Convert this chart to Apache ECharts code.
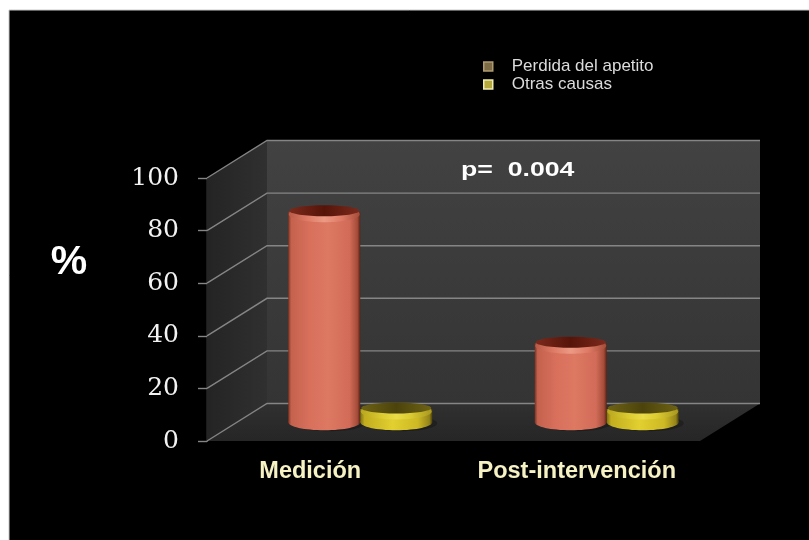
<!DOCTYPE html>
<html>
<head>
<meta charset="utf-8">
<style>html,body{margin:0;padding:0;background:#fff}#c{width:809px;height:540px}</style>
<script src="https://cdn.jsdelivr.net/npm/echarts@6/dist/echarts.min.js"></script>
</head>
<body>
<div id="c"></div>
<script>
// Chart data
const categories = ['Medición', 'Post-intervención'];
const perdidaApetito = [80, 30];
const otrasCausas = [5, 5];
const yTicks = [0, 20, 40, 60, 80, 100];
const seriesNames = ['Perdida del apetito', 'Otras causas'];

// Oblique projection of the box: how far the back wall sits from the front plane
const DEPTH_X = 60;
const DEPTH_Y = -37.5;
const BAR_WIDTH = 72;
const CAP_RY = 8;

const chart = echarts.init(document.getElementById('c'), null, { renderer: 'canvas' });

function hGrad(stops) {
  return new echarts.graphic.LinearGradient(0, 0, 1, 0, stops.map(c => ({ offset: c[0], color: c[1] })));
}

// Walls, floor and the gridlines that wrap around them
function renderBox(params, api) {
  const value = api.value(1);
  const rect = params.coordSys;
  const y = api.coord([0, value])[1];
  const x0 = rect.x, x1 = rect.x + rect.width;
  const lineStyle = { stroke: '#858585', lineWidth: 1.4, fill: null };
  const children = [];
  if (params.dataIndex === 0) {
    const top = rect.y, bottom = rect.y + rect.height;
    children.push({
      type: 'polygon',
      shape: { points: [[x0 + DEPTH_X, top + DEPTH_Y], [x1 + DEPTH_X, top + DEPTH_Y], [x1 + DEPTH_X, bottom + DEPTH_Y], [x0 + DEPTH_X, bottom + DEPTH_Y]] },
      style: { fill: new echarts.graphic.LinearGradient(0, 0, 0, 1, [{ offset: 0, color: '#424242' }, { offset: 1, color: '#343434' }]) }
    }, {
      type: 'polygon',
      shape: { points: [[x0, top], [x0 + DEPTH_X, top + DEPTH_Y], [x0 + DEPTH_X, bottom + DEPTH_Y], [x0, bottom]] },
      style: { fill: new echarts.graphic.LinearGradient(0, 0, 1, 0, [{ offset: 0, color: '#242424' }, { offset: 1, color: '#303030' }]) }
    }, {
      type: 'polygon',
      shape: { points: [[x0, bottom], [x0 + DEPTH_X, bottom + DEPTH_Y], [x1 + DEPTH_X, bottom + DEPTH_Y], [x1, bottom]] },
      style: { fill: new echarts.graphic.LinearGradient(0, 0, 0, 1, [{ offset: 0, color: '#303030' }, { offset: 1, color: '#262626' }]) }
    });
  }
  children.push({
    type: 'polyline',
    shape: { points: [[x0, y], [x0 + DEPTH_X, y + DEPTH_Y], [x1 + DEPTH_X, y + DEPTH_Y]] },
    style: lineStyle
  });
  return { type: 'group', children };
}

// Cylinder standing mid-depth on the floor; side = -1 left of the category, +1 right
function cylinder(side, palette) {
  return function (params, api) {
    const pt = api.coord([api.value(0), api.value(1)]);
    const base = api.coord([api.value(0), 0]);
    const cx = pt[0] + DEPTH_X / 2 + side * BAR_WIDTH / 2;
    const topY = pt[1] + DEPTH_Y / 2;
    const baseY = base[1] + DEPTH_Y / 2;
    const rx = BAR_WIDTH / 2;
    const body = hGrad(palette.body);
    return {
      type: 'group',
      children: [
        { type: 'ellipse', shape: { cx: cx + 5, cy: baseY + 1, rx: rx, ry: CAP_RY }, style: { fill: 'rgba(0,0,0,0.25)' } },
        { type: 'ellipse', shape: { cx, cy: baseY, rx, ry: CAP_RY }, style: { fill: body } },
        { type: 'rect', shape: { x: cx - rx, y: topY, width: BAR_WIDTH, height: baseY - topY }, style: { fill: body } },
        { type: 'ellipse', shape: { cx, cy: topY + 2.5, rx: rx - 0.5, ry: CAP_RY }, style: { fill: hGrad(palette.rim) } },
        { type: 'ellipse', shape: { cx, cy: topY - 1, rx: rx - 1, ry: CAP_RY - 2.5 }, style: { fill: hGrad(palette.top) } }
      ]
    };
  };
}

const redPalette = {
  body: [[0, '#7a3322'], [0.04, '#c4624e'], [0.3, '#d8705c'], [0.55, '#dd7863'], [0.85, '#d26c58'], [0.96, '#a44c39'], [1, '#5a2215']],
  rim: [[0, '#b85a47'], [0.25, '#dd7a65'], [0.5, '#ec9a85'], [0.75, '#dd7a65'], [1, '#a44c39']],
  top: [[0, '#7a2a1c'], [0.5, '#561409'], [1, '#7a2a1c']]
};
const yellowPalette = {
  body: [[0, '#7d7012'], [0.06, '#c2ae1e'], [0.45, '#e2cf30'], [0.8, '#cdb924'], [0.96, '#94841a'], [1, '#4a4008']],
  rim: [[0, '#b8a61e'], [0.3, '#dccb30'], [0.5, '#eadb48'], [0.7, '#dccb30'], [1, '#a89820']],
  top: [[0, '#6e6214'], [0.5, '#4c430c'], [1, '#6e6214']]
};

chart.setOption({
  animation: false,
  backgroundColor: '#ffffff',
  graphic: [
    { type: 'rect', z: -10, silent: true, shape: { x: 9, y: 10, width: 810, height: 540 }, style: { fill: '#000000', stroke: '#c8c8c8', lineWidth: 1 } },
    { type: 'text', z: 10, silent: true, x: 69, y: 263, style: { text: '%', fill: '#ffffff', font: 'bold 41px "Liberation Sans"', align: 'center', verticalAlign: 'middle' } },
    { type: 'text', z: 10, silent: true, x: 461, y: 170, scaleX: 1.27, style: { text: 'p=  0.004', fill: '#ffffff', font: 'bold 21px "Liberation Sans"', align: 'left', verticalAlign: 'middle' } }
  ],
  legend: {
    orient: 'vertical',
    left: 478,
    top: 53,
    itemWidth: 9,
    itemHeight: 9,
    itemGap: 1,
    icon: 'rect',
    selectedMode: false,
    textStyle: { color: '#dcdcdc', fontFamily: 'Liberation Sans', fontSize: 17, padding: [0, 0, 0, 14] },
    data: [
      { name: seriesNames[0], itemStyle: { color: '#7d6b45', borderColor: '#b09a70', borderWidth: 1.5 } },
      { name: seriesNames[1], itemStyle: { color: '#b5a83c', borderColor: '#f0ecb0', borderWidth: 1.5 } }
    ]
  },
  grid: { left: 207, top: 178, width: 493, height: 263 },
  xAxis: {
    type: 'category',
    data: categories,
    axisLine: { show: false },
    axisTick: { show: false },
    axisLabel: {
      interval: 0,
      hideOverlap: false,
      margin: 19,
      color: '#f6f2c4',
      fontFamily: 'Liberation Sans',
      fontWeight: 'bold',
      fontSize: 23.5,
      formatter: (v, i) => i === 0 ? '{a|' + v + '}' : v,
      rich: { a: { padding: [0, 40, 0, 0], color: '#f6f2c4', fontFamily: 'Liberation Sans', fontWeight: 'bold', fontSize: 23.5 } }
    }
  },
  yAxis: {
    type: 'value',
    min: 0,
    max: 100,
    interval: 20,
    axisLine: { show: true, lineStyle: { color: '#858585', width: 1.4 } },
    axisTick: { show: true, length: 9, lineStyle: { color: '#858585', width: 1.4 } },
    axisLabel: { margin: 28, padding: [6, 0, 0, 0], color: '#f2f2f2', fontFamily: 'DejaVu Serif', fontSize: 25 },
    splitLine: { show: false }
  },
  series: [
    {
      type: 'custom',
      name: 'box',
      z: 1,
      silent: true,
      renderItem: renderBox,
      encode: { x: 0, y: 1 },
      data: yTicks.map(v => [0, v])
    },
    {
      type: 'custom',
      name: seriesNames[0],
      z: 3,
      itemStyle: { color: '#7d6b45' },
      renderItem: cylinder(-1, redPalette),
      encode: { x: 0, y: 1 },
      data: perdidaApetito.map((v, i) => [i, v])
    },
    {
      type: 'custom',
      name: seriesNames[1],
      z: 4,
      itemStyle: { color: '#b5a83c' },
      renderItem: cylinder(1, yellowPalette),
      encode: { x: 0, y: 1 },
      data: otrasCausas.map((v, i) => [i, v])
    }
  ]
});
</script>
</body>
</html>
